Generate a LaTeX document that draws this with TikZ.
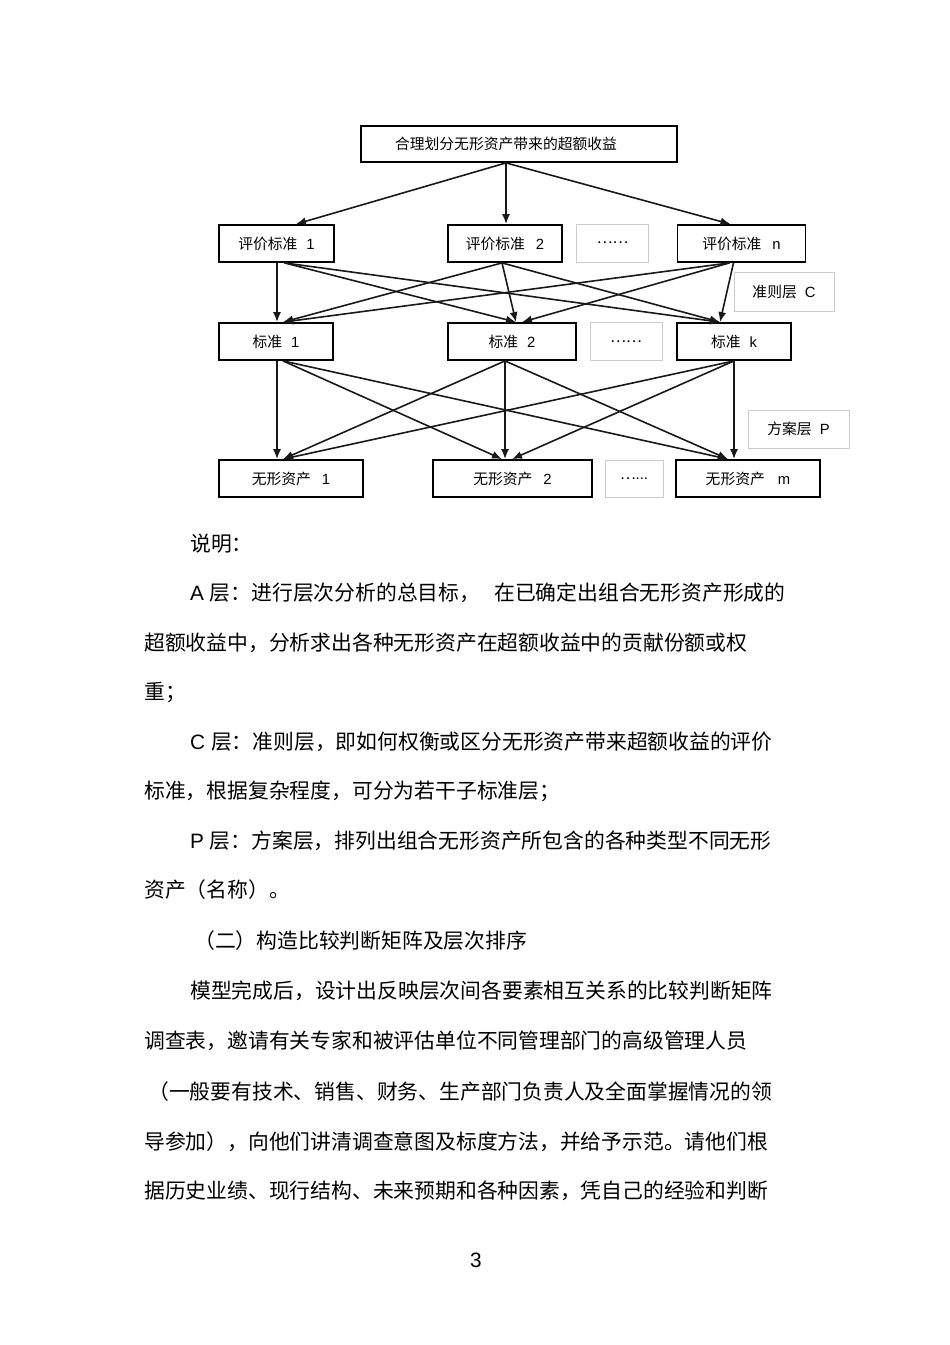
\documentclass[tikz,border=0pt]{standalone}
\usepackage{fontspec}
\setmainfont{Noto Sans CJK SC}
\newfontfamily\lat{Liberation Sans}
\usetikzlibrary{arrows.meta,calc}
\tikzset{
  box/.style={draw=black, line width=1.8pt, minimum height=37pt, inner sep=0pt,
    font=\fontsize{14.8}{16}\selectfont},
  gbox/.style={draw=black!20, line width=0.9pt, minimum height=38pt, inner sep=0pt,
    font=\fontsize{14.8}{16}\selectfont},
  arr/.style={-{Latex[length=10pt,width=8pt]}, line width=1.6pt, draw=black!90},
  body/.style={anchor=base west, inner sep=0pt, font=\fontsize{20.8}{22}\selectfont},
}
\begin{document}
\begin{tikzpicture}[x=1pt,y=-1pt]
\fill[white] (0,0) rectangle (950,1345);
\useasboundingbox (0,0) rectangle (950,1345);

% ---- boxes ----
\node[box, minimum width=316pt, minimum height=36pt] (top) at (519,144) {合理划分无形资产带来的超额收益\kern26pt};

\node[box, minimum width=115pt] (e1) at (276.5,243.5) {评价标准\hspace{9pt}{\lat 1}};
\node[box, minimum width=114pt] (e2) at (505,243.5) {评价标准\hspace{11pt}{\lat 2}};
\node[gbox, minimum width=72pt] (ed) at (612.5,243) {……};
\node[box, minimum width=128pt] (en) at (741.5,243.5) {评价标准\hspace{11pt}{\lat n}};
\node[gbox, minimum width=100pt, minimum height=39pt] (lc) at (784,292) {准则层\hspace{8pt}{\lat C}};

\node[box, minimum width=114pt] (s1) at (276,341.5) {标准\hspace{9pt}{\lat 1}};
\node[box, minimum width=128pt] (s2) at (512,341.5) {标准\hspace{9pt}{\lat 2}};
\node[gbox, minimum width=72pt] (sd) at (626,341.5) {……};
\node[box, minimum width=114pt] (sk) at (734,341.5) {标准\hspace{9pt}{\lat k}};
\node[gbox, minimum width=101pt] (lp) at (798.5,429) {方案层\hspace{8pt}{\lat P}};

\node[box, minimum width=144pt] (w1) at (291,478.5) {无形资产\hspace{11pt}{\lat 1}};
\node[box, minimum width=159pt] (w2) at (512.5,478.5) {无形资产\hspace{11pt}{\lat 2}};
\node[gbox, minimum width=58pt, minimum height=37pt] (wd) at (634,478.5) {…{\lat ...}};
\node[box, minimum width=144pt] (wm) at (748,478.5) {无形资产\hspace{13pt}{\lat m}};

% ---- anchor points ----
\coordinate (t0) at ([xshift=-13pt]top.south);
\coordinate (e1t) at ([xshift=19.5pt]e1.north);
\coordinate (e2t) at ([xshift=1pt]e2.north);
\coordinate (ent) at ([xshift=-11pt]en.north);

\coordinate (e1a) at ([xshift=0.5pt]e1.south);
\coordinate (e1b) at ([xshift=8pt]e1.south);
\coordinate (e2b) at ([xshift=-3pt]e2.south);
\coordinate (enb) at ([xshift=-12pt]en.south);
\coordinate (enc) at ([xshift=-8pt]en.south);

\coordinate (s1a) at ([xshift=1pt]s1.north);
\coordinate (s1b) at ([xshift=7pt]s1.north);
\coordinate (s2a) at ([xshift=4pt]s2.north);
\coordinate (s2b) at ([xshift=10pt]s2.north);
\coordinate (skt) at ([xshift=-14pt]sk.north);

\coordinate (s1c) at ([xshift=1pt]s1.south);
\coordinate (s1d) at ([xshift=7pt]s1.south);
\coordinate (s2c) at ([xshift=-7pt]s2.south);
\coordinate (skc) at ([xshift=0pt]sk.south);

\coordinate (w1a) at ([xshift=-14pt]w1.north);
\coordinate (w1b) at ([xshift=-8pt]w1.north);
\coordinate (w2a) at ([xshift=-10.5pt]w2.north);
\coordinate (w2b) at ([xshift=-7.5pt]w2.north);
\coordinate (w2c) at ([xshift=-0.5pt]w2.north);
\coordinate (wma) at ([xshift=-20pt]wm.north);
\coordinate (wmb) at ([xshift=-14pt]wm.north);

% ---- connectors ----
\draw[arr] (t0) -- (e1t);
\draw[arr] (t0) -- (e2t);
\draw[arr] (t0) -- (ent);

\draw[arr] (e1a) -- (s1a);
\draw[arr] (e1b) -- (s2a);
\draw[arr] (e1b) -- (skt);
\draw[arr] (e2b) -- (s1b);
\draw[arr] (e2b) -- (s2a);
\draw[arr] (e2b) -- (skt);
\draw[arr] (enb) -- (s1b);
\draw[arr] (enb) -- (s2b);
\draw[arr] (enc) -- (skt);

\draw[arr] (s1c) -- (w1a);
\draw[arr] (s1d) -- (w2a);
\draw[arr] (s1d) -- (wma);
\draw[arr] (s2c) -- (w1b);
\draw[arr] (s2c) -- (w2b);
\draw[arr] (s2c) -- (wma);
\draw[arr] (skc) -- (w1b);
\draw[arr] (skc) -- (w2c);
\draw[arr] (skc) -- (wmb);

% ---- body text ----
\node[body] (p0) at (190,551) {说明：};
\node[body] (p1) at (190,600.5) {{\lat A }层：进行层次分析的总目标，};
\node[body] (p1b) at (494,600.5) {在已确定出组合无形资产形成的};
\node[body] (p2) at (144,650) {超额收益中，分析求出各种无形资产在超额收益中的贡献份额或权};
\node[body] (p3) at (144,699.5) {重；};
\node[body] (p4) at (190,749) {{\lat C }层：准则层，即如何权衡或区分无形资产带来超额收益的评价};
\node[body] (p5) at (144,798.5) {标准，根据复杂程度，可分为若干子标准层；};
\node[body] (p6) at (190,848) {{\lat P }层：方案层，排列出组合无形资产所包含的各种类型不同无形};
\node[body] (p7) at (144,897.5) {资产（名称）。};
\node[body] (p8) at (194,948) {（二）构造比较判断矩阵及层次排序};
\node[body] (p9) at (190,998) {模型完成后，设计出反映层次间各要素相互关系的比较判断矩阵};
\node[body] (p10) at (144,1048) {调查表，邀请有关专家和被评估单位不同管理部门的高级管理人员};
\node[body] (p11) at (148,1099) {（一般要有技术、销售、财务、生产部门负责人及全面掌握情况的领};
\node[body] (p12) at (144,1149) {导参加），向他们讲清调查意图及标度方法，并给予示范。请他们根};
\node[body] (p13) at (144,1198.5) {据历史业绩、现行结构、未来预期和各种因素，凭自己的经验和判断};
\node[inner sep=0pt, font=\lat\fontsize{20.8}{22}\selectfont] (pg) at (476,1260) {3};
\end{tikzpicture}
\end{document}
